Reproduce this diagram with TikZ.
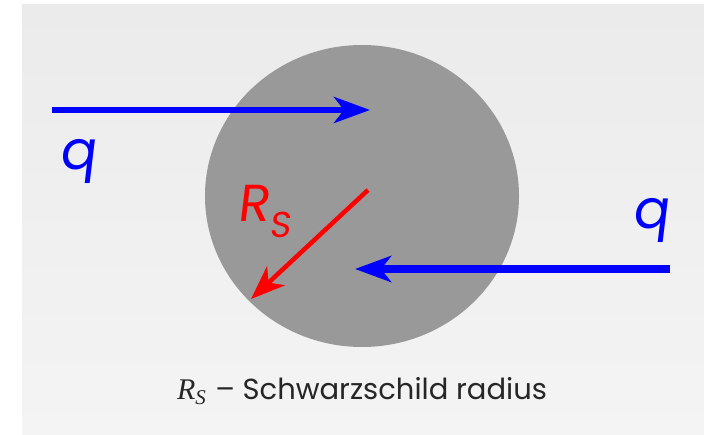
\documentclass[tikz,border=0pt]{standalone}
\usepackage{fontspec}
\setmainfont{Poppins}
\newfontfamily\geo[FakeSlant=0.12]{Poppins}
\newfontfamily\capfont{Poppins}
\newfontfamily\serifit{Liberation Serif}
\usetikzlibrary{arrows.meta}
\definecolor{panelTop}{HTML}{EBEBEB}
\definecolor{panelBot}{HTML}{F4F4F4}
\definecolor{disk}{HTML}{999999}
\begin{document}
\begin{tikzpicture}[x=1pt,y=-1pt,
  flow/.style={draw=blue, line width=6pt, -{Stealth[length=36pt,width=26pt,inset=10pt]}},
  radius arrow/.style={draw=red, line width=4.5pt, -{Stealth[length=34pt,width=26pt,inset=10pt]}},
  qlabel/.style={text=blue, font=\geo\fontsize{54}{54}\selectfont, inner sep=0pt},
  rlabel/.style={text=red, inner sep=0pt},
  caption/.style={inner sep=0pt, text=black!85}]
\useasboundingbox (0,0) rectangle (704,435);
\shade[top color=panelTop, bottom color=panelBot] (22,5) rectangle (705,436);
\fill[disk] (362,196) ellipse [x radius=157, y radius=151];
% top arrow
\coordinate (a1s) at (52,110);
\coordinate (a1e) at (370,110);
\draw[flow] (a1s) -- (a1e);
\node[qlabel] (q1) at (78,161) {q};
% bottom arrow
\coordinate (a2s) at (670,269);
\coordinate (a2e) at (355,269);
\draw[flow, line width=8pt] (a2s) -- (a2e);
\node[qlabel] (q2) at (651,220) {q};
% radius arrow
\coordinate (rs) at (368,190);
\coordinate (re) at (251,299);
\draw[radius arrow] (rs) -- (re);
\node[rlabel] (rl) at (264,212) {\geo\fontsize{52}{52}\selectfont R\raisebox{-16pt}{\fontsize{36}{36}\selectfont S}};
% caption
\node[caption] (cap) at (362,391) {{\serifit\itshape\fontsize{30}{30}\selectfont R\raisebox{-5pt}{\fontsize{21}{21}\selectfont S}}\,\capfont\fontsize{29}{29}\selectfont\ – Schwarzschild radius};
\end{tikzpicture}
\end{document}
